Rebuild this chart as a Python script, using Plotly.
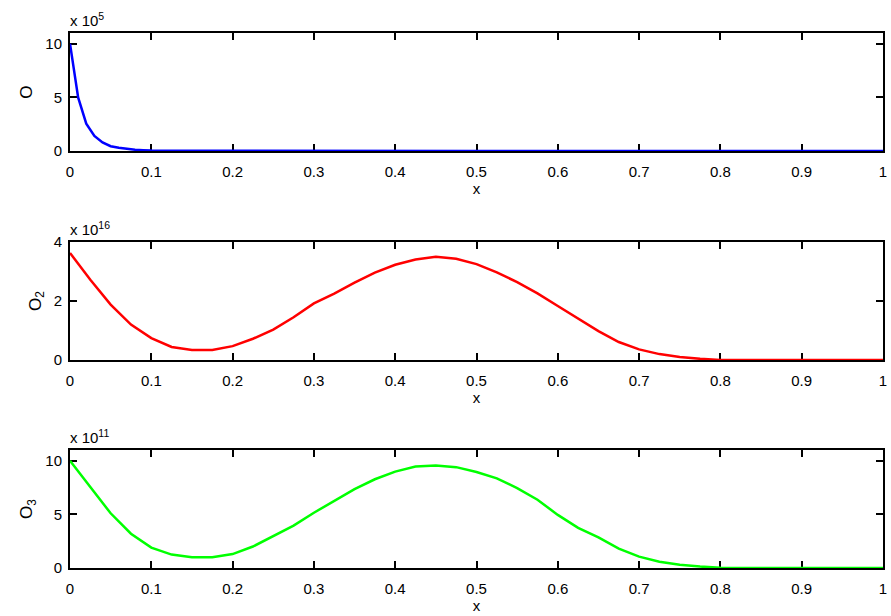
import plotly.graph_objects as go
from plotly.subplots import make_subplots

# Concentration profiles along x (values in units of the axis exponent)
x_o = [0.0, 0.01, 0.02, 0.03, 0.04, 0.05, 0.06, 0.07, 0.08, 0.09, 0.10,
       0.15, 0.20, 0.30, 0.40, 0.50, 0.60, 0.70, 0.80, 0.90, 1.0]
o_vals = [10.0, 5.0, 2.55, 1.4, 0.8, 0.45, 0.3, 0.2, 0.12, 0.08, 0.05,
          0.03, 0.02, 0.01, 0.01, 0.01, 0.01, 0.01, 0.01, 0.01, 0.01]

x_grid = [0.0, 0.025, 0.05, 0.075, 0.1, 0.125, 0.15, 0.175, 0.2, 0.225,
          0.25, 0.275, 0.3, 0.325, 0.35, 0.375, 0.4, 0.425, 0.45, 0.475,
          0.5, 0.525, 0.55, 0.575, 0.6, 0.625, 0.65, 0.675, 0.7, 0.725,
          0.75, 0.775, 0.8, 0.85, 0.9, 0.95, 1.0]
o2_vals = [3.63, 2.72, 1.88, 1.20, 0.74, 0.44, 0.34, 0.34, 0.47, 0.72,
           1.03, 1.45, 1.92, 2.25, 2.62, 2.96, 3.23, 3.41, 3.50, 3.43,
           3.25, 2.97, 2.64, 2.26, 1.83, 1.40, 0.98, 0.61, 0.36, 0.20,
           0.10, 0.04, 0.0, 0.0, 0.0, 0.0, 0.0]
o3_vals = [10.0, 7.5, 5.1, 3.2, 1.9, 1.25, 1.0, 1.0, 1.3, 2.0,
           2.95, 3.95, 5.15, 6.25, 7.35, 8.27, 8.98, 9.45, 9.56, 9.40,
           8.95, 8.35, 7.45, 6.36, 4.95, 3.74, 2.85, 1.80, 1.06, 0.58,
           0.30, 0.13, 0.02, 0.0, 0.0, 0.0, 0.0]

x_ticks = [0, 0.1, 0.2, 0.3, 0.4, 0.5, 0.6, 0.7, 0.8, 0.9, 1]
x_tick_text = ["0", "0.1", "0.2", "0.3", "0.4", "0.5", "0.6", "0.7", "0.8", "0.9", "1"]

panels = [
    dict(x=x_o, y=o_vals, color="#0000ff", title="O", yrange=[0, 11],
         yticks=[0, 5, 10], exp="x 10<sup>5</sup>"),
    dict(x=x_grid, y=o2_vals, color="#ff0000", title="O<sub>2</sub>", yrange=[0, 4],
         yticks=[0, 2, 4], exp="x 10<sup>16</sup>"),
    dict(x=x_grid, y=o3_vals, color="#00ff00", title="O<sub>3</sub>", yrange=[0, 11],
         yticks=[0, 5, 10], exp="x 10<sup>11</sup>"),
]

domains = [[0.7794, 1.0], [0.3888, 0.6093], [0.0, 0.2206]]

fig = make_subplots(rows=3, cols=1)
family = "Liberation Sans, Arial, sans-serif"
font = dict(family=family, size=15, color="black")
ytitle_font = dict(family=family, size=17, color="black")

for i, p in enumerate(panels):
    r = i + 1
    fig.add_trace(go.Scatter(x=p["x"], y=p["y"], mode="lines",
                             line=dict(color=p["color"], width=2.5),
                             showlegend=False), row=r, col=1)
    axis_common = dict(showline=True, linecolor="black", linewidth=2,
                       mirror="ticks", ticks="inside", ticklen=7, tickwidth=2,
                       tickcolor="black", showgrid=False, zeroline=False,
                       tickfont=font, layer="below traces")
    fig.update_xaxes(range=[0, 1], tickvals=x_ticks, ticktext=x_tick_text,
                     title=dict(text="x", font=font, standoff=3),
                     ticklabelstandoff=6, **axis_common, row=r, col=1)
    fig.update_yaxes(range=p["yrange"], tickvals=p["yticks"], domain=domains[i],
                     title=dict(text=p["title"], font=ytitle_font, standoff=8),
                     ticklabelstandoff=3, **axis_common, row=r, col=1)
    fig.add_annotation(text=p["exp"], xref="paper", yref="paper",
                       x=0, y=domains[i][1], xanchor="left", yanchor="bottom",
                       xshift=-2, yshift=2, showarrow=False, font=font)

fig.update_layout(width=891, height=616, plot_bgcolor="white", paper_bgcolor="white",
                  margin=dict(l=70, r=4, t=33, b=48), font=font)

fig.write_html("out.html")
